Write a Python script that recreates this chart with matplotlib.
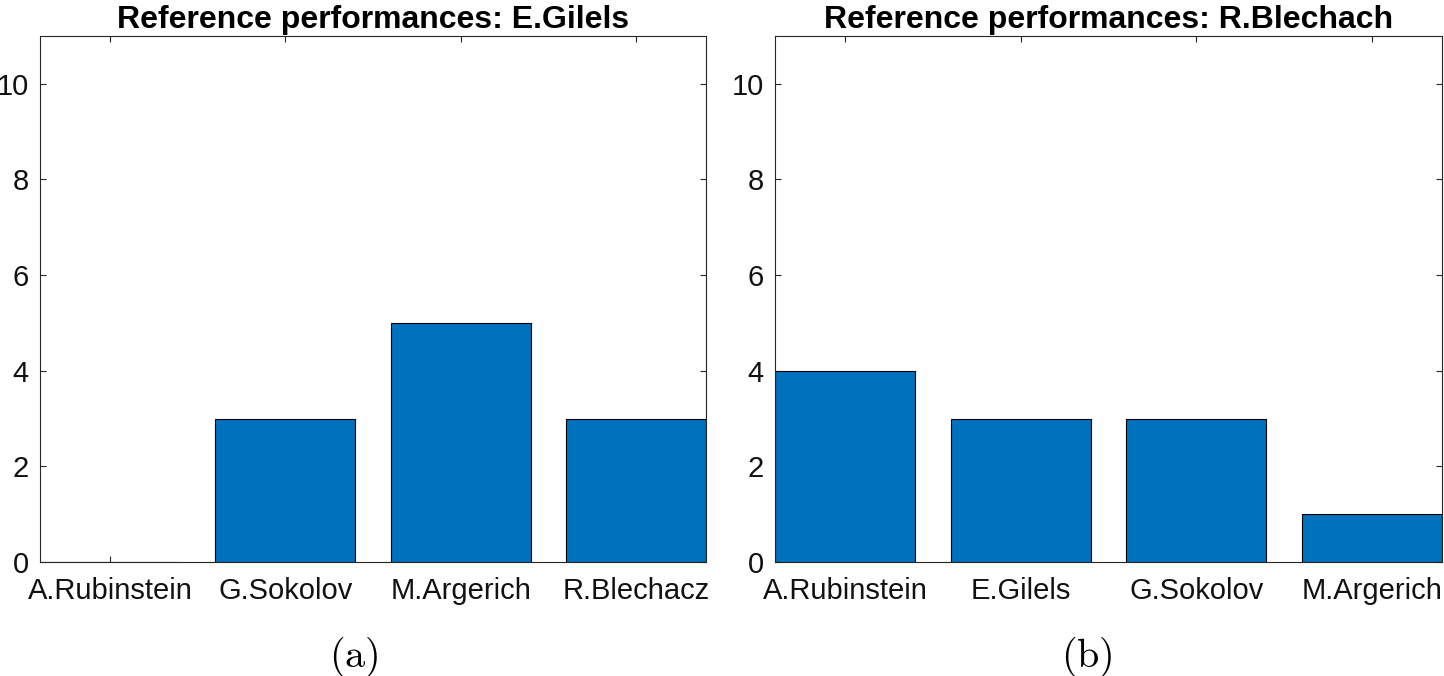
import matplotlib.pyplot as plt

plt.rcParams['font.family'] = ['Liberation Sans', 'DejaVu Sans']
plt.rcParams['mathtext.fontset'] = 'cm'

titles = ["Reference performances: E.Gilels", "Reference performances: R.Blechach"]
names_a = ["A.Rubinstein", "G.Sokolov", "M.Argerich", "R.Blechacz"]
counts_a = [0, 3, 5, 3]
names_b = ["A.Rubinstein", "E.Gilels", "G.Sokolov", "M.Argerich"]
counts_b = [4, 3, 3, 1]
panel_tags = ["(a)", "(b)"]

W, H = 1444, 676
fig = plt.figure(figsize=(W / 100, H / 100), dpi=100)

boxes = [(40, 706), (775, 1442)]
tag_x = [354, 1087]
top, bottom = 36, 562

for i, (names, counts) in enumerate([(names_a, counts_a), (names_b, counts_b)]):
    x0, x1 = boxes[i]
    ax = fig.add_axes([x0 / W, 1 - bottom / H, (x1 - x0) / W, (bottom - top) / H])
    pos = list(range(1, len(names) + 1))
    ax.bar(pos, counts, width=0.8, color="#0072BD", edgecolor="black", linewidth=0.8, zorder=2)
    ax.set_xlim(0.6, 4.4)
    ax.set_ylim(0, 11)
    ax.set_xticks(pos)
    ax.set_xticklabels(names)
    ax.set_yticks(range(0, 11, 2))
    ax.tick_params(direction="in", top=True, right=True, length=4, width=0.8,
                   color="#262626", labelsize=21, labelcolor="#111111")
    ax.tick_params(axis="x", pad=11)
    ax.tick_params(axis="y", pad=8)
    for s in ax.spines.values():
        s.set_color("#262626")
        s.set_linewidth(0.8)
        s.set_zorder(3)
    ax.set_title(titles[i], fontsize=23, fontweight="bold", pad=6)
    fig.text(tag_x[i] / W, 1 - 657 / H, r"$\mathrm{" + panel_tags[i] + "}$",
             ha="center", va="center", fontsize=29)

fig.savefig("out.png", dpi=100)
